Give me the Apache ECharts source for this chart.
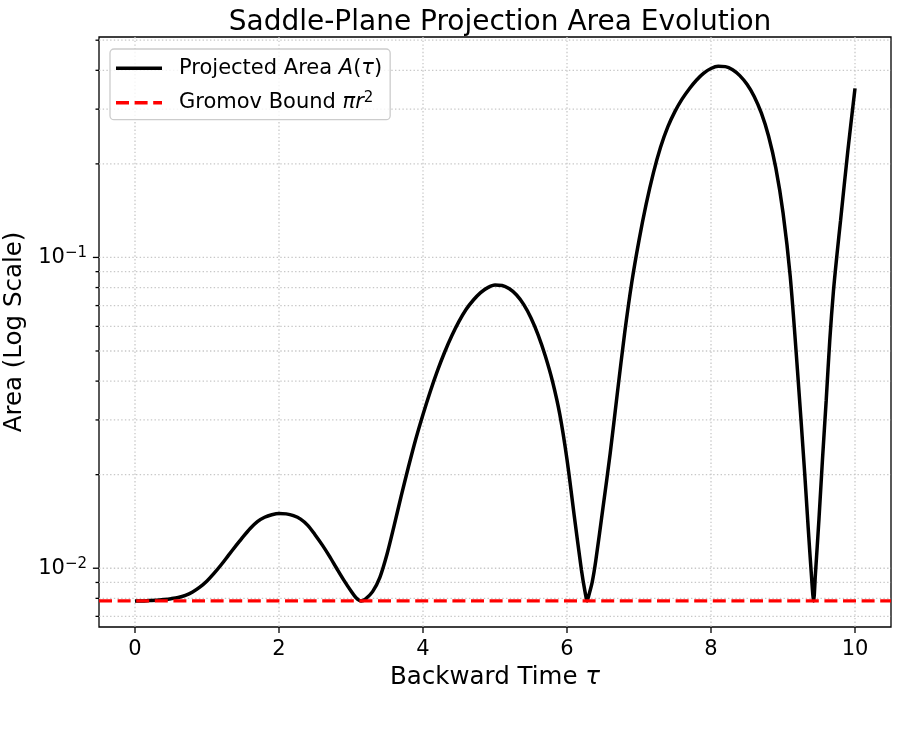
<!DOCTYPE html>
<html>
<head>
<meta charset="utf-8">
<script src="https://cdn.jsdelivr.net/npm/echarts@6/dist/echarts.min.js"></script>
<style>
  html, body { margin: 0; padding: 0; background: #fff; }
  #chart { width: 898px; height: 735px; }
</style>
</head>
<body>
<div id="chart"></div>
<script>
// values
const tau = [0, 0.1, 0.2, 0.3, 0.4, 0.5, 0.6, 0.7, 0.8, 0.9, 1.0, 1.1, 1.2, 1.3, 1.4, 1.5, 1.6, 1.7, 1.8, 1.9,
  2.0, 2.1, 2.2, 2.3, 2.4, 2.5, 2.6, 2.7, 2.8, 2.9, 3.0, 3.07, 3.14, 3.2, 3.3, 3.4, 3.5, 3.6, 3.7, 3.8,
  3.9, 4.0, 4.1, 4.2, 4.3, 4.4, 4.5, 4.6, 4.7, 4.8, 4.9, 5.0, 5.1, 5.2, 5.3, 5.4, 5.5, 5.6, 5.7, 5.8,
  5.9, 6.0, 6.1, 6.2, 6.25, 6.28, 6.3, 6.35, 6.4, 6.5, 6.6, 6.7, 6.8, 6.9, 7.0, 7.1, 7.2, 7.3, 7.4,
  7.5, 7.6, 7.7, 7.8, 7.9, 8.0, 8.1, 8.2, 8.3, 8.4, 8.5, 8.6, 8.7, 8.8, 8.9, 9.0, 9.1, 9.2, 9.3, 9.35,
  9.4, 9.425, 9.45, 9.5, 9.55, 9.6, 9.65, 9.7, 9.75, 9.8, 9.9, 10.0];
const projectedArea = [0.00785, 0.00785, 0.00787, 0.00789, 0.00793, 0.00798, 0.00805, 0.00818, 0.00839,
  0.00869, 0.0091, 0.00964, 0.01028, 0.01102, 0.0118, 0.01262, 0.01343, 0.01413, 0.01459, 0.01486,
  0.015, 0.01496, 0.01476, 0.01439, 0.01374, 0.01282, 0.01189, 0.01094, 0.01, 0.00916, 0.00845,
  0.00804, 0.00785, 0.00796, 0.00841, 0.00933, 0.01109, 0.01374, 0.01718, 0.02128, 0.02606, 0.03126,
  0.03698, 0.04315, 0.04955, 0.05598, 0.06223, 0.06808, 0.07295, 0.07709, 0.07998, 0.08147, 0.08128,
  0.07925, 0.07568, 0.07047, 0.06383, 0.05623, 0.04808, 0.03981, 0.03126, 0.02239, 0.01479, 0.00989,
  0.00841, 0.00785, 0.00813, 0.00902, 0.01059, 0.01567, 0.02344, 0.03673, 0.05689, 0.08318, 0.1135,
  0.1486, 0.1871, 0.2265, 0.263, 0.2951, 0.3236, 0.3491, 0.3724, 0.3917, 0.4055, 0.4121, 0.4111,
  0.4018, 0.3846, 0.3606, 0.3296, 0.2911, 0.2455, 0.1941, 0.1396, 0.0871, 0.04365, 0.02042, 0.01349,
  0.00912, 0.00785, 0.00955, 0.01445, 0.02275, 0.03467, 0.05433, 0.07762, 0.1023, 0.1318, 0.2198,
  0.3499];
const gromovBound = 0.00785;

const xMin = -0.5;
const xMax = 10.5;
const yMin = 0.00647;
const yMax = 0.512;
const xMajorTicks = [0, 2, 4, 6, 8, 10];
const yMajorTicks = [0.01, 0.1];
const yMinorTicks = [0.007, 0.008, 0.009, 0.02, 0.03, 0.04, 0.05, 0.06, 0.07, 0.08, 0.09, 0.2, 0.3, 0.4, 0.5];

const curveName = 'Projected Area A(τ)';
const boundName = 'Gromov Bound πr²';

const font = 'DejaVu Sans';
const gridColor = '#c8c8c8';
const gridDash = [1.4, 2.3];

const chart = echarts.init(document.getElementById('chart'), null, { renderer: 'canvas' });

// grid lines and tick marks drawn matplotlib style (nothing at the axis ends)
const renderYTicks = (params, api) => {
  const cs = params.coordSys;
  const y = api.coord([0, api.value(1)])[1];
  const major = api.value(2) === 1;
  return {
    type: 'group',
    children: [
      {
        type: 'line',
        shape: { x1: cs.x, y1: y, x2: cs.x + cs.width, y2: y },
        style: { stroke: gridColor, lineWidth: 1.3, lineDash: gridDash }
      },
      {
        type: 'line',
        shape: { x1: cs.x - (major ? 6.1 : 3.5), y1: y, x2: cs.x, y2: y },
        style: { stroke: '#000', lineWidth: 1.3 }
      }
    ]
  };
};

const renderXTicks = (params, api) => {
  const cs = params.coordSys;
  const x = api.coord([api.value(0), gromovBound])[0];
  const bottom = cs.y + cs.height;
  return {
    type: 'group',
    children: [
      {
        type: 'line',
        shape: { x1: x, y1: cs.y, x2: x, y2: bottom },
        style: { stroke: gridColor, lineWidth: 1.3, lineDash: gridDash }
      },
      {
        type: 'line',
        shape: { x1: x, y1: bottom, x2: x, y2: bottom + 6.1 },
        style: { stroke: '#000', lineWidth: 1.3 }
      }
    ]
  };
};

const option = {
  animation: false,
  backgroundColor: '#fff',
  title: {
    text: 'Saddle-Plane Projection Area Evolution',
    left: 495,
    top: 4,
    textAlign: 'center',
    textStyle: { fontFamily: font, fontSize: 28, fontWeight: 'normal', color: '#000' }
  },
  legend: {
    orient: 'vertical',
    left: 110,
    top: 49,
    padding: [8.7, 8, 6.5, 6],
    itemGap: 12,
    itemWidth: 46,
    itemHeight: 3.5,
    borderColor: '#cccccc',
    borderWidth: 1.3,
    borderRadius: 4,
    backgroundColor: 'rgba(255,255,255,0.8)',
    data: [
      { name: curveName, icon: 'rect' },
      { name: boundName, icon: 'path://M0,0h13v3.5h-13z M18.6,0h13v3.5h-13z M37.2,0h8.8v3.5h-8.8z' }
    ],
    formatter: name => name === curveName
      ? '{g| }{t|Projected Area }{i|A}{t|(}{i|τ}{t|)}'
      : '{g| }{t|Gromov Bound }{i|πr}{s|2}',
    textStyle: {
      fontFamily: font,
      fontSize: 21,
      color: '#000',
      rich: {
        g: { width: 12, fontSize: 21 },
        t: { fontFamily: font, fontSize: 21, color: '#000', lineHeight: 24 },
        i: { fontFamily: font, fontSize: 21, fontStyle: 'italic', color: '#000', lineHeight: 24 },
        s: { fontFamily: font, fontSize: 15, color: '#000', verticalAlign: 'top', lineHeight: 24 }
      }
    }
  },
  grid: {
    left: 99,
    top: 37,
    width: 792,
    height: 590,
    show: true,
    borderColor: '#000',
    borderWidth: 1.3,
    backgroundColor: 'transparent',
    containLabel: false,
    outerBoundsMode: 'none'
  },
  xAxis: {
    type: 'value',
    min: xMin,
    max: xMax,
    name: 'Backward Time {i|τ}',
    nameLocation: 'middle',
    nameGap: 38,
    nameTextStyle: {
      fontFamily: font,
      fontSize: 24.5,
      color: '#000',
      rich: { i: { fontFamily: font, fontSize: 24.5, fontStyle: 'italic', color: '#000' } }
    },
    axisLine: { show: false },
    axisTick: { show: false },
    axisLabel: {
      margin: 12,
      fontFamily: font,
      fontSize: 21,
      color: '#000',
      formatter: v => (xMajorTicks.indexOf(v) >= 0 ? String(v) : '')
    },
    splitLine: { show: false }
  },
  yAxis: {
    type: 'log',
    logBase: 10,
    min: yMin,
    max: yMax,
    name: 'Area (Log Scale)',
    nameLocation: 'middle',
    nameGap: 66,
    nameTextStyle: { fontFamily: font, fontSize: 24.5, color: '#000' },
    axisLine: { show: false },
    axisTick: { show: false },
    axisLabel: {
      margin: 12,
      fontFamily: font,
      fontSize: 21,
      color: '#000',
      formatter: v => {
        const e = Math.log10(v);
        if (Math.abs(e - Math.round(e)) > 1e-6) return '';
        return '{b|10}{s|−' + Math.abs(Math.round(e)) + '}';
      },
      rich: {
        b: { fontFamily: font, fontSize: 21, color: '#000', lineHeight: 24 },
        s: { fontFamily: font, fontSize: 15, color: '#000', verticalAlign: 'top', lineHeight: 24 }
      }
    },
    splitLine: { show: false }
  },
  series: [
    {
      type: 'custom',
      name: 'yTicks',
      z: 1,
      clip: false,
      silent: true,
      renderItem: renderYTicks,
      data: yMinorTicks.map(v => [0, v, 0]).concat(yMajorTicks.map(v => [0, v, 1]))
    },
    {
      type: 'custom',
      name: 'xTicks',
      z: 1,
      clip: false,
      silent: true,
      renderItem: renderXTicks,
      data: xMajorTicks.map(v => [v, gromovBound])
    },
    {
      type: 'line',
      name: curveName,
      z: 3,
      symbol: 'none',
      smooth: 0.3,
      color: '#000',
      lineStyle: { color: '#000', width: 3.5 },
      data: tau.map((t, i) => [t, projectedArea[i]])
    },
    {
      type: 'line',
      name: boundName,
      z: 4,
      symbol: 'none',
      color: '#ff0000',
      lineStyle: { color: '#ff0000', width: 3.4, type: [13, 5.6] },
      data: [[xMin, gromovBound], [xMax, gromovBound]]
    }
  ]
};

chart.setOption(option);
</script>
</body>
</html>
